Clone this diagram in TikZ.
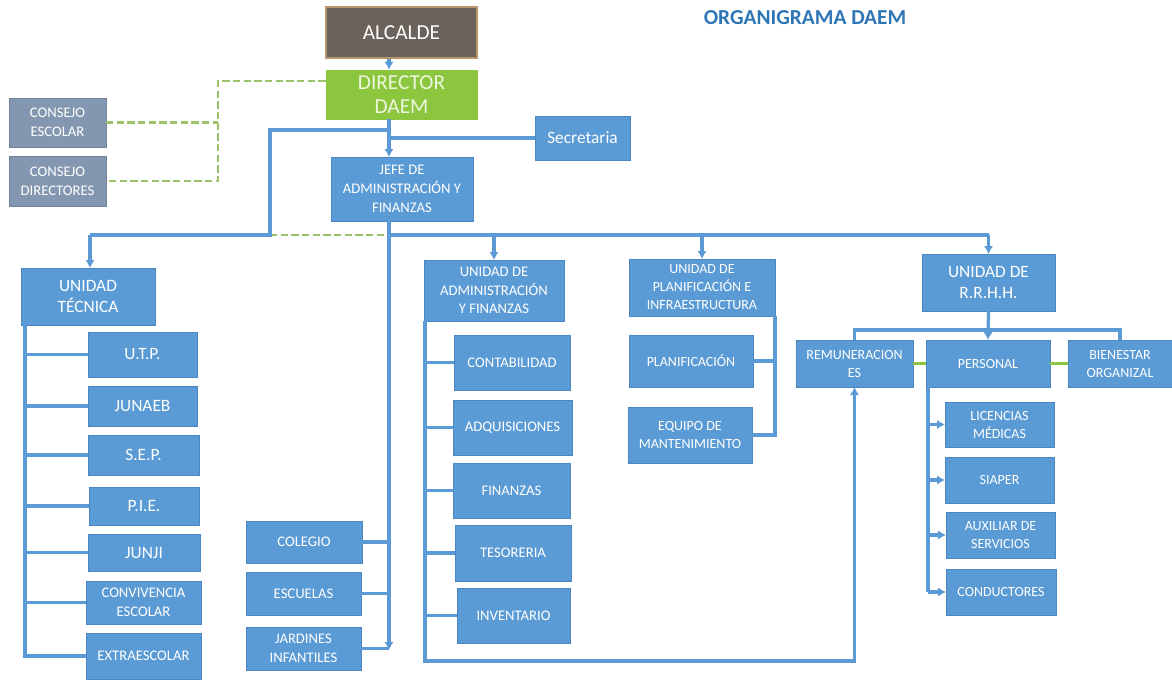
\documentclass[tikz,border=0pt]{standalone}
\usepackage{fontspec}
\setmainfont{Carlito}
\usetikzlibrary{arrows.meta}
\definecolor{bl}{HTML}{5B9BD5}
\definecolor{bld}{HTML}{4A86C2}
\definecolor{alcf}{HTML}{6B625B}
\definecolor{alcd}{HTML}{B8956A}
\definecolor{grn}{HTML}{8CC63F}
\definecolor{grnt}{HTML}{EEF7DD}
\definecolor{gdl}{HTML}{9BC46A}
\definecolor{slate}{HTML}{8497B0}
\definecolor{slated}{HTML}{6F819B}
\definecolor{tb}{HTML}{2E75B6}
\begin{document}
\begin{tikzpicture}[x=0.75pt,y=-0.75pt,
  sz/.style 2 args={minimum width=#1*0.75pt,minimum height=#2*0.75pt},
  box/.style={draw=bld,fill=bl,text=white,align=center,inner sep=1pt,outer sep=0pt,line width=0.6pt,
    font=\fontsize{11}{14}\selectfont},
  big/.style={font=\fontsize{13}{16}\selectfont},
  mid/.style={font=\fontsize{10.5}{13.5}\selectfont},
  cons/.style={box,draw=slated,fill=slate},
  ln/.style={draw=bl,line width=2.4pt},
  arr/.style={-{Latex[length=6pt,width=7pt]}},
  gdash/.style={draw=gdl,line width=2.2pt,dash pattern=on 5.5pt off 2.5pt},
  gsolid/.style={draw=grn,line width=2.4pt}]
\useasboundingbox (0,0) rectangle (1172,679);
% title
\node[font=\bfseries\fontsize{16}{19}\selectfont,text=tb] (title) at (805,18) {ORGANIGRAMA DAEM};
% top
\node[draw=alcd,fill=alcf,text=white,sz={151}{51},font=\fontsize{16}{19}\selectfont,line width=0.8pt,inner sep=0pt] (alc) at (401.5,32.5) {ALCALDE};
\node[draw=grn,fill=grn,text=grnt,sz={151}{49},font=\fontsize{16}{18}\selectfont,align=center,inner sep=0pt] (dir) at (401.5,94.5) {DIRECTOR\\DAEM};
\node[cons,sz={97}{49}] (ce) at (57.5,122.5) {CONSEJO\\ESCOLAR};
\node[cons,sz={97}{50}] (cd) at (57.5,181) {CONSEJO\\DIRECTORES};
\node[box,sz={95}{44},font=\fontsize{13}{16}\selectfont] (sec) at (582.5,138) {Secretaria};
\node[box,sz={142}{64}] (jefe) at (402,189) {JEFE DE\\ADMINISTRACIÓN Y\\FINANZAS};
% unidad tecnica
\node[box,big,sz={134}{57}] (ut) at (88,296.5) {UNIDAD\\TÉCNICA};
\node[box,big,sz={109}{45}] (utp) at (142.5,354.5) {U.T.P.};
\node[box,big,sz={109}{40}] (junaeb) at (142.5,406) {JUNAEB};
\node[box,big,sz={111}{40}] (sep) at (143.5,455) {S.E.P.};
\node[box,big,sz={110}{38}] (pie) at (144,506) {P.I.E.};
\node[box,big,sz={112}{37}] (junji) at (144,552.5) {JUNJI};
\node[box,sz={115}{43}] (conv) at (143.5,602.5) {CONVIVENCIA\\ESCOLAR};
\node[box,sz={115}{46}] (extra) at (143.5,656) {EXTRAESCOLAR};
% establecimientos
\node[box,sz={116}{42}] (colegio) at (304,542) {COLEGIO};
\node[box,sz={115}{43}] (escuelas) at (303.5,593.5) {ESCUELAS};
\node[box,sz={115}{43}] (jardines) at (303.5,648.5) {JARDINES\\INFANTILES};
% admin y finanzas
\node[box,sz={140}{61}] (uaf) at (494,290.5) {UNIDAD DE\\ADMINISTRACIÓN\\Y FINANZAS};
\node[box,sz={116}{55}] (cont) at (512,362.5) {CONTABILIDAD};
\node[box,sz={119}{55}] (adq) at (512.5,427.5) {ADQUISICIONES};
\node[box,sz={117}{55}] (fin) at (511.5,490.5) {FINANZAS};
\node[box,sz={116}{56}] (tes) at (513,553) {TESORERIA};
\node[box,sz={113}{55}] (inv) at (513.5,615.5) {INVENTARIO};
% planificacion
\node[box,mid,sz={146}{57}] (upi) at (702,287.5) {UNIDAD DE\\PLANIFICACIÓN E\\INFRAESTRUCTURA};
\node[box,mid,sz={124}{52}] (plan) at (691,361) {PLANIFICACIÓN};
\node[box,mid,sz={124}{56}] (eq) at (690,435) {EQUIPO DE\\MANTENIMIENTO};
% rrhh
\node[box,big,sz={133}{57}] (rrhh) at (988.5,282.5) {UNIDAD DE\\R.R.H.H.};
\node[box,mid,sz={117}{47}] (rem) at (854.5,363.5) {REMUNERACION\\ES};
\node[box,mid,sz={124}{47}] (pers) at (988,363.5) {PERSONAL};
\node[box,mid,sz={104}{47}] (bien) at (1120,363.5) {BIENESTAR\\ORGANIZAL};
\node[box,mid,sz={109}{45}] (lic) at (999.5,424.5) {LICENCIAS\\MÉDICAS};
\node[box,mid,sz={109}{46}] (siap) at (999.5,480) {SIAPER};
\node[box,mid,sz={109}{46}] (aux) at (1000.5,535) {AUXILIAR DE\\SERVICIOS};
\node[box,mid,sz={110}{46}] (cond) at (1001,592) {CONDUCTORES};
% coordinates
\coordinate (cx) at (389,0);
\coordinate (t1) at (389,130);
\coordinate (t2) at (268,130);
\coordinate (t3) at (270,235);
\coordinate (t4) at (90,235);
\coordinate (t5) at (389,235);
\coordinate (t6) at (988.5,235);
\coordinate (t7) at (389,650);
\coordinate (g1) at (218,81);
\coordinate (ua) at (25,0);
\coordinate (ub) at (425,661);
\coordinate (ud) at (928,0);
\coordinate (rh) at (0,330);
% green dashed links
\draw[gdash] (dir.west |- g1) -- (g1) |- (cd.east);
\draw[gdash] (ce.east) -- (ce.east -| g1);
\draw[gdash] (t3) -- (t5);
% trunk
\draw[ln,arr] (alc.south -| cx) -- (dir.north -| cx);
\draw[ln,arr] (dir.south -| cx) -- (jefe.north -| cx);
\draw[ln] (t1) -- (t2);
\draw[ln] (t3 |- t1) -- (t3) -- (t4);
\draw[ln,arr] (t4) -- (ut.north -| t4);
\draw[ln] (sec.west) -- (sec.west -| cx);
\draw[ln] (t5) -- (t6);
\draw[ln,arr] (jefe.south -| cx) -- (t7);
\draw[ln] (colegio.east) -- (colegio.east -| cx);
\draw[ln] (escuelas.east) -- (escuelas.east -| cx);
\draw[ln] (jardines.east) -- (jardines.east -| cx);
\draw[ln,arr] (t5 -| uaf.north) -- (uaf.north);
\draw[ln,arr] (t5 -| upi.north) -- (upi.north);
\draw[ln,arr] (t6) -- (rrhh.north);
% unidad tecnica branch
\draw[ln] (ut.south -| ua) -- (extra.west -| ua) -- (extra.west);
\foreach \n in {utp,junaeb,sep,pie,junji,conv} \draw[ln] (\n.west -| ua) -- (\n.west);
% admin branch
\draw[ln,arr] (uaf.south -| ub) -- (ub) -| (rem.south);
\foreach \n in {cont,adq,fin,tes,inv} \draw[ln] (\n.west -| ub) -- (\n.west);
% planificacion branch
\draw[ln] (upi.south east) -- (upi.south east |- eq.east) -- (eq.east);
\draw[ln] (plan.east) -- (plan.east -| upi.south east);
% rrhh branch
\draw[ln,arr] (rrhh.south) -- (pers.north);
\draw[ln] (rem.north) -- (rem.north |- rh) -- (rh -| bien.north) -- (bien.north);
\draw[gsolid] (rem.east) -- (pers.west);
\draw[gsolid] (pers.east) -- (bien.west);
\draw[ln] (pers.south -| ud) -- (cond.west -| ud);
\foreach \n in {lic,siap,aux,cond} \draw[ln,arr] (\n.west -| ud) -- (\n.west);
\end{tikzpicture}
\end{document}
